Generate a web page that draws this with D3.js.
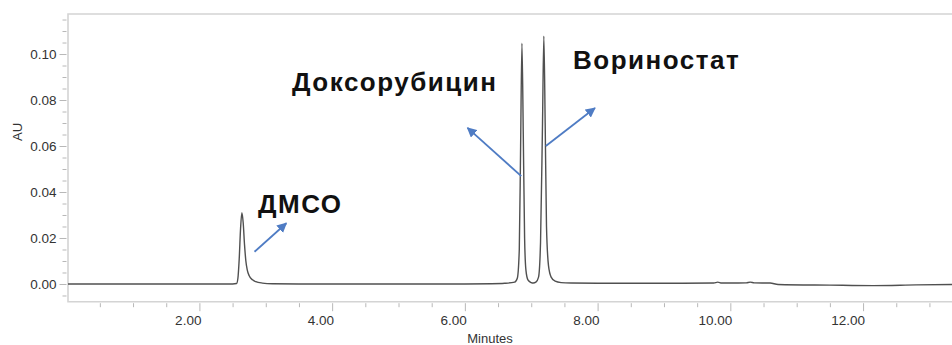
<!DOCTYPE html>
<html>
<head>
<meta charset="utf-8">
<script src="https://cdn.jsdelivr.net/npm/d3@7"></script>
<style>
  html, body { margin: 0; padding: 0; background: #fff; }
  svg { display: block; font-family: "Liberation Sans", Arial, sans-serif; }
</style>
</head>
<body>
<svg id="chart" width="952" height="345"></svg>
<script>
// Chromatogram trace: retention time (min) and detector response (AU)
const retentionTime = [
  0.02, 1.00, 2.00, 2.50, 2.56, 2.58, 2.60, 2.62, 2.64, 2.66, 2.68, 2.70, 2.72,
  2.75, 2.80, 2.85, 2.95, 3.10, 3.50, 4.00, 5.00, 6.00, 6.40, 6.60, 6.75, 6.79,
  6.82, 6.84, 6.86, 6.88, 6.90, 6.92, 6.95, 7.00, 7.03, 7.07, 7.11, 7.14, 7.17,
  7.19, 7.21, 7.23, 7.26, 7.30, 7.36, 7.45, 7.60, 8.00, 9.00, 9.75, 9.81, 9.87,
  10.00, 10.24, 10.30, 10.36, 10.60, 10.72, 11.50, 12.15, 12.80, 13.34
];
const absorbance = [
  0.0000, 0.0000, 0.0000, 0.0000, 0.0002, 0.0025, 0.0110, 0.0240, 0.0310, 0.0265, 0.0170, 0.0100, 0.0062,
  0.0036, 0.0018, 0.0010, 0.0004, 0.0001, 0.0000, 0.0000, 0.0000, 0.0000, 0.0001, 0.0003, 0.0008, 0.0025,
  0.0150, 0.0600, 0.1047, 0.0650, 0.0200, 0.0060, 0.0018, 0.0006, 0.0004, 0.0008, 0.0030, 0.0180, 0.0700,
  0.1078, 0.0700, 0.0250, 0.0080, 0.0030, 0.0012, 0.0006, 0.0004, 0.0003, 0.0003, 0.0004, 0.0008, 0.0004,
  0.0004, 0.0005, 0.0008, 0.0005, 0.0004, -0.0002, -0.0005, -0.0007, -0.0004, -0.0002
];

// Axis ticks
const xMajorTicks = [2, 4, 6, 8, 10, 12];
const xMinorTicks = [0.5, 1, 1.5, 2.5, 3, 3.5, 4.5, 5, 5.5, 6.5, 7, 7.5, 8.5, 9, 9.5, 10.5, 11, 11.5, 12.5, 13];
const yMajorTicks = [0.00, 0.02, 0.04, 0.06, 0.08, 0.10];
const yMinorTicks = [-0.005, 0.005, 0.01, 0.015, 0.025, 0.03, 0.035, 0.045, 0.05, 0.055,
                     0.065, 0.07, 0.075, 0.085, 0.09, 0.095, 0.105, 0.11, 0.115];

// Peak names
const peakNames = ["ДМСО", "Доксорубицин", "Вориностат"];

const svg = d3.select("#chart");
const plotLeft = 68, plotRight = 952, plotTop = 14, plotBottom = 301.7;

const x = d3.scaleLinear().domain([0.02, 13.34]).range([plotLeft, plotRight]);
const y = d3.scaleLinear().domain([-0.0077, 0.1174]).range([plotBottom, plotTop]);

const frameColor = "#d4d4d4";
const tickColor = "#b8b8b8";
const textColor = "#333";

// Plot frame (top, left and bottom edges)
svg.append("path")
  .attr("d", `M${plotRight},${plotTop}H${plotLeft}V${plotBottom}H${plotRight}`)
  .attr("fill", "none")
  .attr("stroke", frameColor)
  .attr("stroke-width", 1.6);

// Y axis
const yAxisG = svg.append("g").attr("transform", `translate(${plotLeft - 1.5},0)`);
yAxisG.call(d3.axisLeft(y).tickValues(yMajorTicks).tickSize(7).tickPadding(3).tickFormat(d3.format(".2f")));
yAxisG.append("g").call(d3.axisLeft(y).tickValues(yMinorTicks).tickSize(4).tickFormat(""));
yAxisG.selectAll(".domain").remove();
yAxisG.selectAll("line").attr("stroke", tickColor);
yAxisG.selectAll("text").attr("fill", textColor).style("font-size", "13.5px");

// X axis
const xAxisG = svg.append("g").attr("transform", `translate(0,${plotBottom + 1.5})`);
xAxisG.call(d3.axisBottom(x).tickValues(xMajorTicks).tickSize(8).tickPadding(4).tickFormat(d3.format(".2f")));
xAxisG.append("g").call(d3.axisBottom(x).tickValues(xMinorTicks).tickSize(4).tickFormat(""));
xAxisG.selectAll(".domain").remove();
xAxisG.selectAll("line").attr("stroke", tickColor);
xAxisG.selectAll(".tick text")
  .attr("fill", textColor)
  .attr("text-anchor", "end")
  .attr("dx", "1.5")
  .style("font-size", "13.5px");

// Axis titles
svg.append("text")
  .attr("transform", `translate(22,132) rotate(-90)`)
  .attr("text-anchor", "middle")
  .attr("fill", textColor)
  .style("font-size", "13px")
  .text("AU");

svg.append("text")
  .attr("x", 490).attr("y", 343)
  .attr("text-anchor", "middle")
  .attr("fill", textColor)
  .style("font-size", "13px")
  .text("Minutes");

// Trace
const trace = retentionTime.map((t, i) => [t, absorbance[i]]);
svg.append("path")
  .datum(trace)
  .attr("d", d3.line().x(d => x(d[0])).y(d => y(d[1])).curve(d3.curveMonotoneX))
  .attr("fill", "none")
  .attr("stroke", "#505050")
  .attr("stroke-width", 1.4)
  .attr("stroke-linejoin", "round");

// Annotation arrows
const arrowColor = "#4f7cc4";
svg.append("defs").append("marker")
  .attr("id", "head")
  .attr("viewBox", "0 0 10 10")
  .attr("refX", 9).attr("refY", 5)
  .attr("markerWidth", 10).attr("markerHeight", 10)
  .attr("markerUnits", "userSpaceOnUse")
  .attr("orient", "auto")
  .append("path")
  .attr("d", "M0,0L10,5L0,10Z")
  .attr("fill", arrowColor);

const annotations = [
  { name: peakNames[0], tx: 258, ty: 213, from: [2.83, 0.0140], to: [3.31, 0.0264] },
  { name: peakNames[1], tx: 292, ty: 91, from: [6.85, 0.0469], to: [6.04, 0.0679] },
  { name: peakNames[2], tx: 573, ty: 69, from: [7.22, 0.0600], to: [7.96, 0.0765] }
];

annotations.forEach(a => {
  svg.append("line")
    .attr("x1", x(a.from[0])).attr("y1", y(a.from[1]))
    .attr("x2", x(a.to[0])).attr("y2", y(a.to[1]))
    .attr("stroke", arrowColor)
    .attr("stroke-width", 1.8)
    .attr("marker-end", "url(#head)");
  svg.append("text")
    .attr("x", a.tx).attr("y", a.ty)
    .attr("fill", "#111")
    .style("font-size", "26px")
    .style("font-weight", "bold")
    .style("letter-spacing", "1.5px")
    .text(a.name);
});
</script>
</body>
</html>
